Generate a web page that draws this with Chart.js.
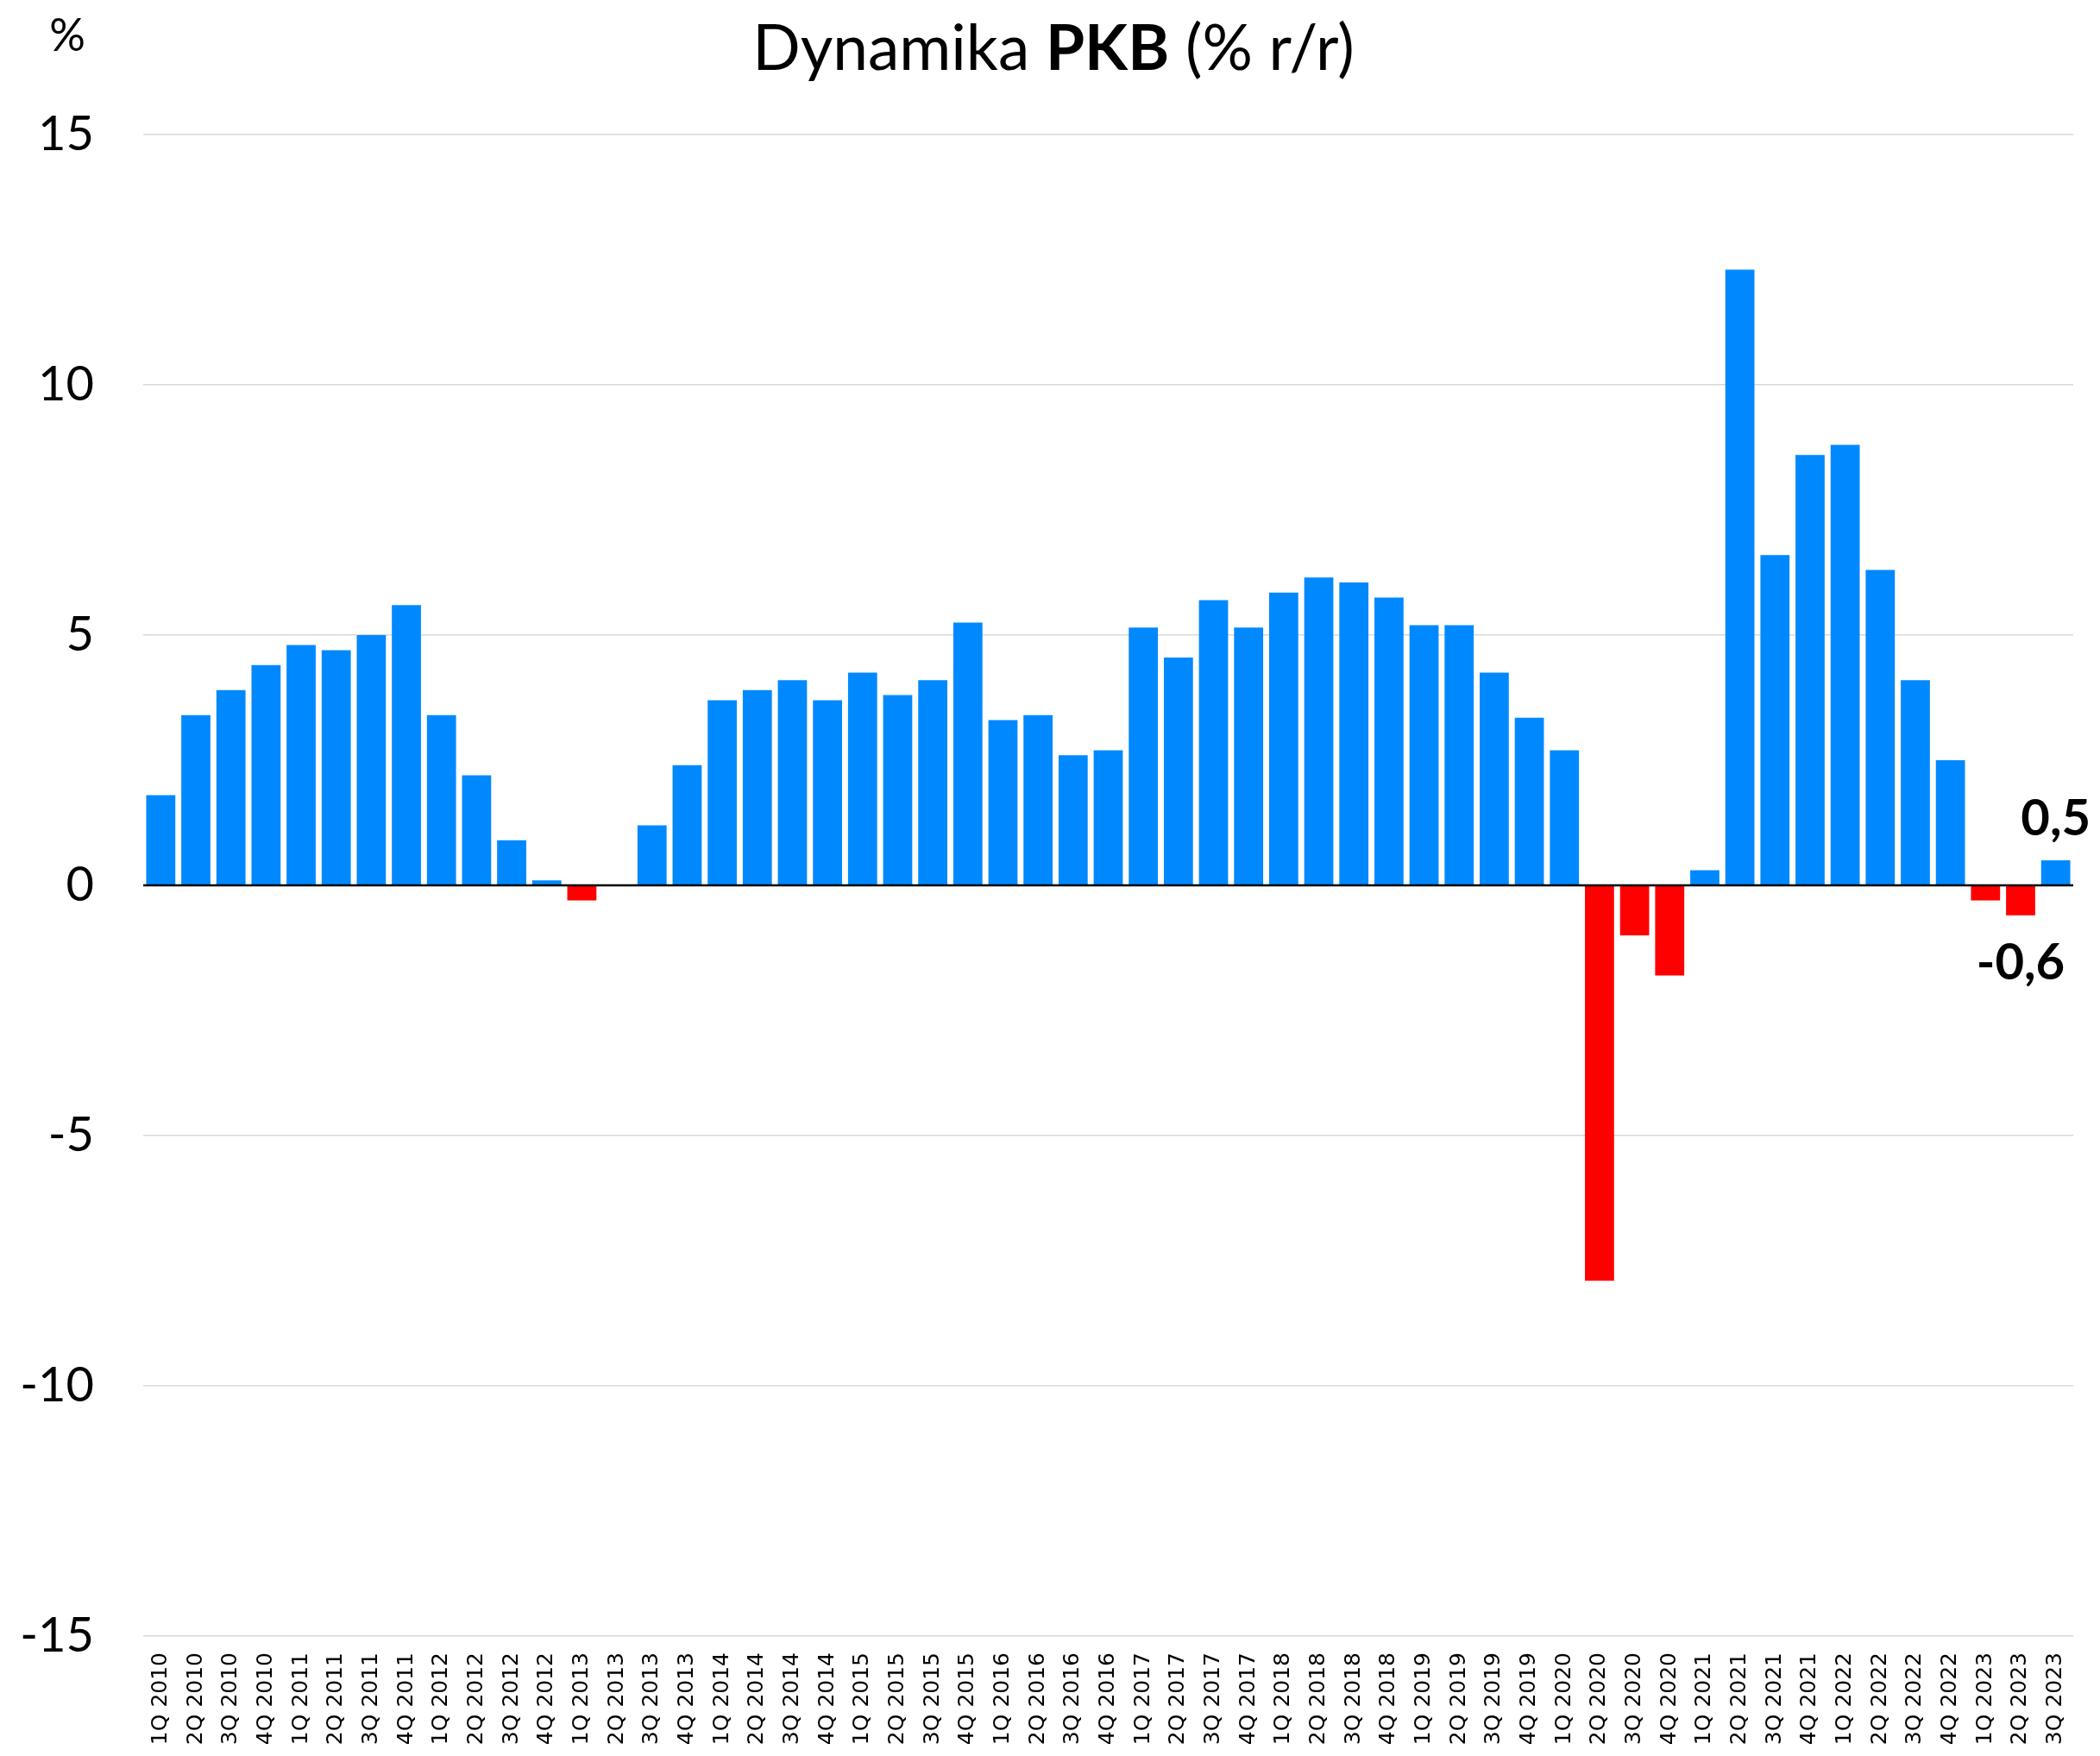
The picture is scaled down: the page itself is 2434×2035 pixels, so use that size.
<!DOCTYPE html>
<html>
<head>
<meta charset="utf-8">
<script src="https://cdn.jsdelivr.net/npm/chart.js@4/dist/chart.umd.min.js"></script>
<style>
  html, body { margin: 0; padding: 0; background: #ffffff; }
  #wrap { width: 2434px; height: 2035px; position: relative; }
</style>
</head>
<body>
<div id="wrap"><canvas id="c" width="2434" height="2035"></canvas></div>
<script>
const categories = [
  "1Q 2010","2Q 2010","3Q 2010","4Q 2010",
  "1Q 2011","2Q 2011","3Q 2011","4Q 2011",
  "1Q 2012","2Q 2012","3Q 2012","4Q 2012",
  "1Q 2013","2Q 2013","3Q 2013","4Q 2013",
  "1Q 2014","2Q 2014","3Q 2014","4Q 2014",
  "1Q 2015","2Q 2015","3Q 2015","4Q 2015",
  "1Q 2016","2Q 2016","3Q 2016","4Q 2016",
  "1Q 2017","2Q 2017","3Q 2017","4Q 2017",
  "1Q 2018","2Q 2018","3Q 2018","4Q 2018",
  "1Q 2019","2Q 2019","3Q 2019","4Q 2019",
  "1Q 2020","2Q 2020","3Q 2020","4Q 2020",
  "1Q 2021","2Q 2021","3Q 2021","4Q 2021",
  "1Q 2022","2Q 2022","3Q 2022","4Q 2022",
  "1Q 2023","2Q 2023","3Q 2023"
];
const gdpValues = [
  1.8, 3.4, 3.9, 4.4,
  4.8, 4.7, 5.0, 5.6,
  3.4, 2.2, 0.9, 0.1,
  -0.3, 0.0, 1.2, 2.4,
  3.7, 3.9, 4.1, 3.7,
  4.25, 3.8, 4.1, 5.25,
  3.3, 3.4, 2.6, 2.7,
  5.15, 4.55, 5.7, 5.15,
  5.85, 6.15, 6.05, 5.75,
  5.2, 5.2, 4.25, 3.35,
  2.7, -7.9, -1.0, -1.8,
  0.3, 12.3, 6.6, 8.6,
  8.8, 6.3, 4.1, 2.5,
  -0.3, -0.6, 0.5
];
const yTickValues = [-15, -10, -5, 0, 5, 10, 15];
const labelledIndices = [53, 54];
const titleParts = [["Dynamika ", false], ["PKB", true], [" (% r/r)", false]];
const unitLabel = "%";

const POS_COLOR = "#0089FF";
const NEG_COLOR = "#FF0000";

const overlayPlugin = {
  id: "overlay",
  afterDatasetsDraw(chart) {
    const ctx = chart.ctx;
    const area = chart.chartArea;
    const y0 = chart.scales.y.getPixelForValue(0);
    ctx.save();
    ctx.strokeStyle = "#000000";
    ctx.lineWidth = 2.5;
    ctx.beginPath();
    ctx.moveTo(area.left, y0);
    ctx.lineTo(area.right, y0);
    ctx.stroke();

    const meta = chart.getDatasetMeta(0);
    ctx.fillStyle = "#000000";
    ctx.font = "bold 58px Lato, 'Open Sans', sans-serif";
    ctx.textAlign = "center";
    labelledIndices.forEach(i => {
      const el = meta.data[i];
      const v = gdpValues[i];
      const txt = v.toFixed(1).replace(".", ",");
      if (v >= 0) {
        ctx.textBaseline = "alphabetic";
        ctx.fillText(txt, el.x, el.y - 29);
      } else {
        ctx.textBaseline = "top";
        ctx.fillText(txt, el.x, el.y + 26);
      }
    });
    ctx.restore();
  },
  afterDraw(chart) {
    const ctx = chart.ctx;
    ctx.save();
    ctx.fillStyle = "#000000";
    ctx.textBaseline = "alphabetic";
    const fs = 73;
    let total = 0;
    const widths = titleParts.map(([t, b]) => {
      ctx.font = (b ? "bold " : "") + fs + "px Lato, 'Open Sans', sans-serif";
      const w = ctx.measureText(t).width;
      total += w;
      return w;
    });
    let x = 1221 - total / 2;
    ctx.textAlign = "left";
    titleParts.forEach(([t, b], k) => {
      ctx.font = (b ? "bold " : "") + fs + "px Lato, 'Open Sans', sans-serif";
      ctx.fillText(t, x, 81);
      x += widths[k];
    });
    ctx.font = "52px Lato, 'Open Sans', sans-serif";
    ctx.textAlign = "center";
    ctx.fillText(unitLabel, 78, 59);
    ctx.restore();
  }
};

new Chart(document.getElementById("c"), {
  type: "bar",
  data: {
    labels: categories,
    datasets: [{
      data: gdpValues,
      backgroundColor: gdpValues.map(v => v < 0 ? NEG_COLOR : POS_COLOR),
      borderWidth: 0,
      barPercentage: 0.83,
      categoryPercentage: 1.0
    }]
  },
  options: {
    responsive: false,
    animation: false,
    devicePixelRatio: 1,
    layout: { padding: { top: 156, right: 31, bottom: 0, left: 0 } },
    plugins: {
      legend: { display: false },
      title: { display: false },
      tooltip: { enabled: false }
    },
    scales: {
      x: {
        grid: { display: false, drawTicks: false },
        border: { display: false },
        ticks: {
          autoSkip: false,
          maxRotation: 90,
          minRotation: 90,
          padding: 19,
          color: "#000000",
          font: { family: "'DejaVu Sans', sans-serif", size: 25 }
        },
        afterFit(s) { s.height = 139; }
      },
      y: {
        min: -15,
        max: 15,
        afterBuildTicks(s) { s.ticks = yTickValues.map(v => ({ value: v })); },
        grid: {
          color: "#d9d9d9",
          lineWidth: 1.5,
          drawTicks: false
        },
        border: { display: false },
        ticks: {
          padding: 57,
          color: "#000000",
          font: { family: "Lato, 'Open Sans', sans-serif", size: 56 },
          callback: v => String(v)
        },
        afterFit(s) { s.width = 166; }
      }
    }
  },
  plugins: [overlayPlugin]
});
</script>
</body>
</html>
